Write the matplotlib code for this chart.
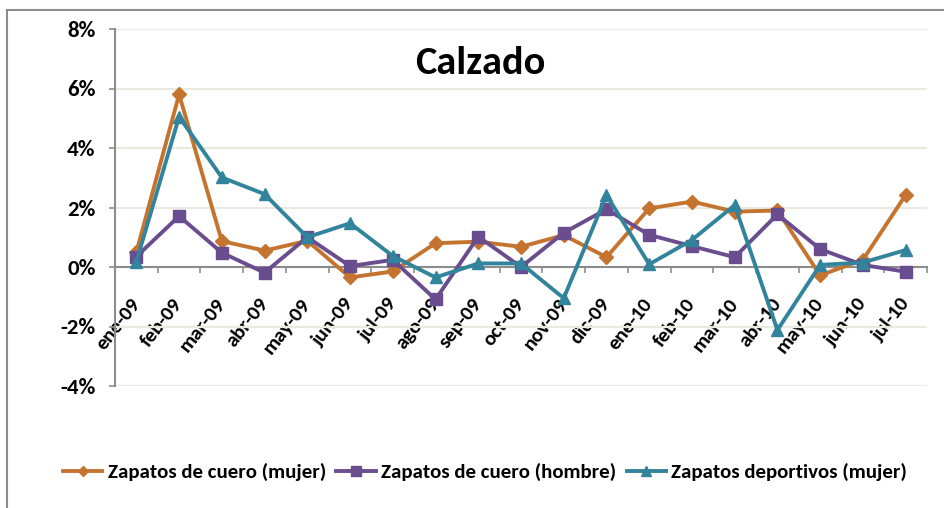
import matplotlib
matplotlib.use("Agg")
import matplotlib.pyplot as plt
from matplotlib.lines import Line2D
from matplotlib.ticker import FuncFormatter, MultipleLocator
import numpy as np

months = ["ene-09", "feb-09", "mar-09", "abr-09", "may-09", "jun-09", "jul-09",
          "ago-09", "sep-09", "oct-09", "nov-09", "dic-09", "ene-10", "feb-10",
          "mar-10", "abr-10", "may-10", "jun-10", "jul-10"]

cuero_mujer = [0.50, 5.80, 0.87, 0.55, 0.88, -0.35, -0.15, 0.80, 0.85, 0.68,
               1.07, 0.33, 1.97, 2.20, 1.86, 1.90, -0.28, 0.24, 2.42]
cuero_hombre = [0.35, 1.71, 0.48, -0.19, 1.00, 0.03, 0.24, -1.09, 1.02, 0.00,
                1.15, 1.94, 1.08, 0.70, 0.33, 1.77, 0.60, 0.07, -0.16]
deportivos_mujer = [0.18, 5.05, 3.01, 2.45, 1.00, 1.47, 0.37, -0.35, 0.12, 0.12,
                    -1.05, 2.42, 0.09, 0.91, 2.08, -2.12, 0.07, 0.15, 0.57]

series_names = ["Zapatos de cuero (mujer)", "Zapatos de cuero (hombre)",
                "Zapatos deportivos (mujer)"]
title = "Calzado"

FONT = ["Carlito", "DejaVu Sans"]
plt.rcParams['font.family'] = FONT

fig = plt.figure(figsize=(9.44, 5.08), dpi=100)
ax = fig.add_axes([115/944, 1-386/508, (927-115)/944, (386-29)/508])

x = np.arange(len(months))
styles = [
    (cuero_mujer, "#C5742F", "D", 7),
    (cuero_hombre, "#6A4D8E", "s", 8.5),
    (deportivos_mujer, "#31849B", "^", 9),
]
handles = []
for (vals, col, mk, ms), name in zip(styles, series_names):
    h, = ax.plot(x, vals, color=col, lw=2.8, marker=mk, markersize=ms,
                 markerfacecolor=col, markeredgecolor=col, label=name, zorder=3)
    handles.append(h)

ax.set_xlim(-0.5, len(months) - 0.5)
ax.set_ylim(-4, 8)
ax.yaxis.set_major_locator(MultipleLocator(2))
ax.yaxis.set_major_formatter(FuncFormatter(lambda v, p: f"{v:.0f}%"))
ax.grid(axis='y', color="#ECEAE0", lw=1.6, zorder=0)
ax.set_axisbelow(True)

for s in ["top", "right"]:
    ax.spines[s].set_visible(False)
ax.spines["bottom"].set_position(("data", 0))
ax.spines["bottom"].set_color("#8C8C8C")
ax.spines["bottom"].set_linewidth(1.5)
ax.spines["left"].set_color("#8C8C8C")
ax.spines["left"].set_linewidth(1.5)

ax.set_xticks(x)
ax.set_xticklabels(months, rotation=52, ha="right", rotation_mode="anchor",
                   va="center", fontsize=15, fontweight="bold")
ax.set_xticks(np.arange(-0.5, len(months)), minor=True)
ax.tick_params(axis="x", which="major", length=0, pad=24)
ax.tick_params(axis="x", which="minor", length=4, width=1.2, color="#8C8C8C",
               direction="out")
ax.tick_params(axis="y", length=4, width=1.2, color="#8C8C8C", pad=10,
               labelsize=16.5)
for lab in ax.get_yticklabels():
    lab.set_fontweight("bold")

ax.text(0.45, 0.905, title, transform=ax.transAxes, ha="center", va="center",
        fontsize=29, fontweight="bold")

fig.legend(handles=handles, loc="center", bbox_to_anchor=(485/944, 1-472/508),
           ncol=3, frameon=False, prop={"family": FONT, "weight": "bold",
                                          "size": 15},
           handlelength=1.9, handletextpad=0.25, columnspacing=0.5,
           markerscale=0.8)

fig.add_artist(Line2D([7/944, 7/944], [0, 1-10/508], transform=fig.transFigure,
                      color="#8C8C8C", lw=1.5))
fig.add_artist(Line2D([7/944, 1], [1-10/508, 1-10/508], transform=fig.transFigure,
                      color="#8C8C8C", lw=1.5))

fig.savefig("out.png", dpi=100)
